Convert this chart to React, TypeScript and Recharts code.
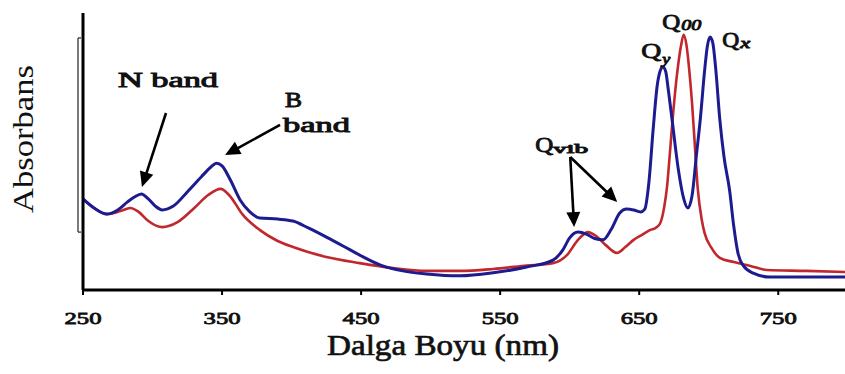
import React from 'react';
import { LineChart, Line, XAxis, YAxis, ReferenceLine, ReferenceDot } from 'recharts';

const blueNm = [250, 258, 267, 275, 282, 287, 292, 297, 302, 307, 315, 325, 335, 342, 346, 350, 356, 363, 370, 377, 390, 401, 412, 425, 437, 449, 464, 480, 497, 521, 545, 569, 588, 595, 600, 606, 612, 618, 624, 630, 636, 641, 646, 651, 654, 657, 660, 663, 665, 667, 669, 671, 674, 678, 682, 685, 688, 691, 694, 697, 699, 701, 703, 705, 708, 711, 715, 718, 721, 725, 732, 744, 770, 798];
const blueAbs = [0.329, 0.296, 0.274, 0.289, 0.318, 0.336, 0.347, 0.329, 0.303, 0.289, 0.303, 0.354, 0.408, 0.444, 0.458, 0.448, 0.397, 0.325, 0.282, 0.26, 0.256, 0.249, 0.224, 0.191, 0.159, 0.126, 0.09, 0.069, 0.058, 0.051, 0.062, 0.083, 0.108, 0.144, 0.188, 0.209, 0.202, 0.186, 0.181, 0.22, 0.278, 0.292, 0.289, 0.282, 0.292, 0.39, 0.578, 0.74, 0.79, 0.805, 0.79, 0.72, 0.6, 0.44, 0.33, 0.296, 0.34, 0.48, 0.62, 0.79, 0.88, 0.913, 0.89, 0.8, 0.614, 0.48, 0.36, 0.23, 0.134, 0.087, 0.061, 0.047, 0.047, 0.047];

const redNm = [250, 258, 267, 277, 284, 290, 297, 307, 318, 330, 340, 349, 355, 365, 377, 390, 401, 425, 449, 473, 497, 521, 545, 569, 588, 598, 606, 613, 619, 626, 634, 640, 646, 652, 658, 662, 665, 668, 670, 672, 674, 677, 680, 682, 684, 686, 688, 690, 692, 695, 697, 702, 708, 718, 730, 742, 770, 798];
const redAbs = [0.329, 0.296, 0.274, 0.285, 0.296, 0.282, 0.249, 0.227, 0.245, 0.296, 0.343, 0.365, 0.343, 0.271, 0.217, 0.177, 0.155, 0.119, 0.097, 0.079, 0.069, 0.069, 0.076, 0.088, 0.097, 0.126, 0.181, 0.209, 0.195, 0.162, 0.134, 0.155, 0.181, 0.199, 0.217, 0.225, 0.24, 0.3, 0.372, 0.49, 0.614, 0.77, 0.88, 0.921, 0.884, 0.794, 0.675, 0.523, 0.372, 0.253, 0.206, 0.152, 0.116, 0.101, 0.087, 0.072, 0.069, 0.065];

const xTicks = [250, 350, 450, 550, 650, 750];

// annotation anchors (data units)
const textNotes = [
  { nm: 275.2, v: 0.733, text: 'N band', size: 20, len: 100, italic: false },
  { nm: 395.3, v: 0.661, text: 'B', size: 20, len: 17, italic: false },
  { nm: 393.9, v: 0.57, text: 'band', size: 20, len: 67, italic: false },
  { nm: 575.2, v: 0.498, text: 'Q', size: 22, len: 18, italic: false },
  { nm: 588.1, v: 0.495, text: 'vib', size: 13, len: 35, italic: false },
  { nm: 651.4, v: 0.838, text: 'Q', size: 22, len: 20, italic: false },
  { nm: 666.5, v: 0.816, text: 'y', size: 14, len: 8, italic: true },
  { nm: 666.5, v: 0.942, text: 'Q', size: 21, len: 18, italic: false },
  { nm: 680.2, v: 0.939, text: '00', size: 14, len: 20, italic: true },
  { nm: 709.7, v: 0.877, text: 'Q', size: 21, len: 17, italic: false },
  { nm: 722.7, v: 0.874, text: 'x', size: 14, len: 10, italic: true },
];

const arrows = [
  { from: [309.7, 0.639], to: [292.4, 0.372] },
  { from: [391.7, 0.596], to: [352.2, 0.487] },
  { from: [600.4, 0.48], to: [603.2, 0.227] },
  { from: [600.4, 0.48], to: [634.2, 0.318] },
];

const bracket = { nm: 246.4, hookNm: 248.6, top: 0.91, bottom: 0.209 };

const blueData = blueNm.map((nm, i) => ({ nm, abs: blueAbs[i] }));
const redData = redNm.map((nm, i) => ({ nm, abs: redAbs[i] }));

const SERIF = "'Liberation Serif', 'DejaVu Serif', serif";
const INK = '#111';

const ArrowShape = (p: any) => {
  const { x1, y1, x2, y2 } = p;
  const dx = x2 - x1;
  const dy = y2 - y1;
  const L = Math.sqrt(dx * dx + dy * dy) || 1;
  const ux = dx / L;
  const uy = dy / L;
  const hl = 15;
  const hw = 7;
  const bx = x2 - ux * hl;
  const by = y2 - uy * hl;
  const pts = `${x2},${y2} ${bx - uy * hw},${by + ux * hw} ${bx + uy * hw},${by - ux * hw}`;
  return (
    <g>
      <line x1={x1} y1={y1} x2={bx + ux * 2} y2={by + uy * 2} stroke="#000" strokeWidth={2.6} />
      <polygon points={pts} fill="#000" />
    </g>
  );
};

const XTick = (p: any) => {
  const { x, y, payload } = p;
  return (
    <text x={x} y={y + 27} textAnchor="middle" style={{ fontFamily: SERIF, fontSize: 17 }} fill={INK} stroke={INK} strokeWidth={0.8} textLength={37} lengthAdjust="spacingAndGlyphs">
      {payload.value}
    </text>
  );
};

const XTitle = () => (
  <text x={443} y={355} textAnchor="middle" style={{ fontFamily: SERIF, fontSize: 30 }} fill={INK} stroke={INK} strokeWidth={0.7} textLength={232} lengthAdjust="spacingAndGlyphs">
    Dalga Boyu (nm)
  </text>
);

const YTitle = () => (
  <text x={33} y={139} textAnchor="middle" transform="rotate(-90, 33, 139)" style={{ fontFamily: SERIF, fontSize: 30 }} fill={INK} textLength={148} lengthAdjust="spacingAndGlyphs">
    Absorbans
  </text>
);

const makeTextShape = (n: any) => (p: any) => (
  <text x={p.cx} y={p.cy} style={{ fontFamily: SERIF, fontStyle: n.italic ? 'italic' : 'normal', fontSize: n.size }} fill={INK} stroke={INK} strokeWidth={0.9} textLength={n.len} lengthAdjust="spacingAndGlyphs">
    {n.text}
  </text>
);

export default function App() {
  return (
    <div style={{ position: 'absolute', left: 0, top: 0, width: 845, height: 374, background: '#fff' }}>
      <LineChart width={845} height={374} margin={{ top: 13, right: 0, bottom: 0, left: 73 }}>
        <XAxis
          dataKey="nm"
          type="number"
          domain={[250, 798]}
          ticks={xTicks}
          allowDataOverflow
          height={84}
          axisLine={{ stroke: '#000', strokeWidth: 3 }}
          tickLine={{ stroke: '#000', strokeWidth: 2 }}
          tickSize={5}
          tick={<XTick />}
          label={<XTitle />}
        />
        <YAxis
          type="number"
          domain={[0, 1]}
          width={10}
          tick={false}
          tickLine={false}
          axisLine={{ stroke: '#000', strokeWidth: 3 }}
          label={<YTitle />}
        />
        <ReferenceLine segment={[{ x: bracket.nm, y: bracket.top }, { x: bracket.nm, y: bracket.bottom }]} ifOverflow="visible" stroke="#333" strokeWidth={1.3} />
        <ReferenceLine segment={[{ x: bracket.nm, y: bracket.top }, { x: bracket.hookNm, y: bracket.top }]} ifOverflow="visible" stroke="#333" strokeWidth={1.3} />
        <ReferenceLine segment={[{ x: bracket.nm, y: bracket.bottom }, { x: bracket.hookNm, y: bracket.bottom }]} ifOverflow="visible" stroke="#333" strokeWidth={1.3} />
        <Line data={redData} dataKey="abs" type="monotone" stroke="#c0282d" strokeWidth={2.6} dot={false} isAnimationActive={false} />
        <Line data={blueData} dataKey="abs" type="monotone" stroke="#1c1c90" strokeWidth={3} dot={false} isAnimationActive={false} />
        {arrows.map((a, i) => (
          <ReferenceLine
            key={'a' + i}
            segment={[{ x: a.from[0], y: a.from[1] }, { x: a.to[0], y: a.to[1] }]}
            ifOverflow="visible"
            shape={ArrowShape}
          />
        ))}
        {textNotes.map((n, i) => (
          <ReferenceDot key={'t' + i} x={n.nm} y={n.v} r={0} ifOverflow="visible" shape={makeTextShape(n)} />
        ))}
      </LineChart>
    </div>
  );
}
